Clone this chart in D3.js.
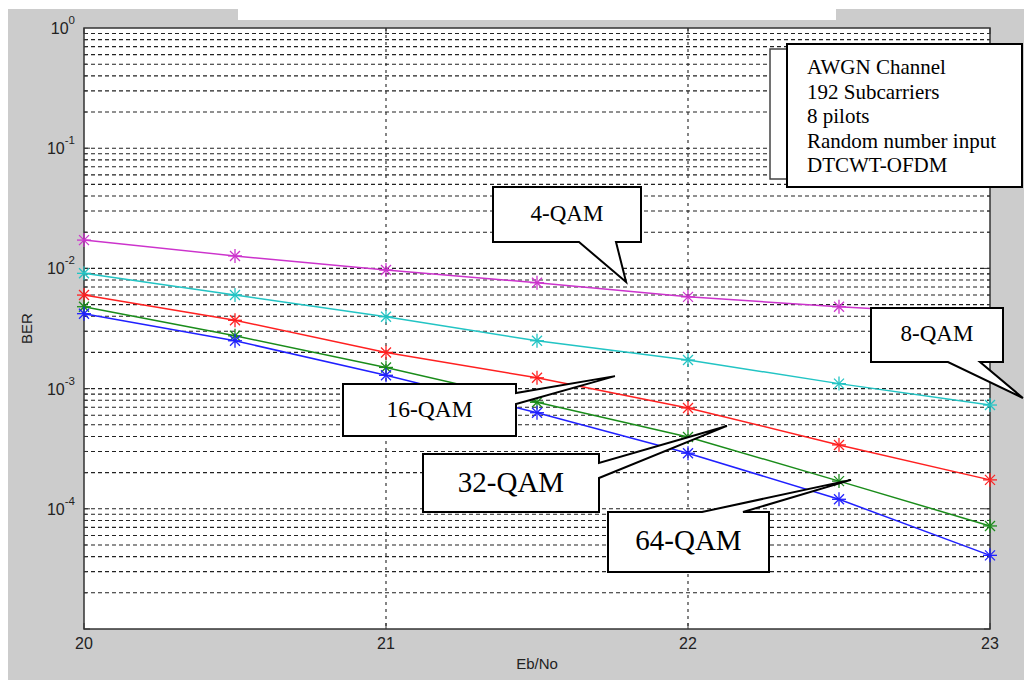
<!DOCTYPE html>
<html><head><meta charset="utf-8">
<script src="https://cdn.jsdelivr.net/npm/d3@7"></script>
<style>html,body{margin:0;padding:0;background:#fff;}svg{display:block;}</style>
</head><body>
<svg id="chart" width="1024" height="680"></svg>
<script>
// ---- data ----
const ebno = [20, 20.5, 21, 21.5, 22, 22.5, 23];
const ber4QAM  = [1.72e-2, 1.27e-2, 9.7e-3, 7.6e-3, 5.8e-3, 4.8e-3, 4.1e-3];
const ber8QAM  = [9.1e-3, 6.0e-3, 3.96e-3, 2.5e-3, 1.73e-3, 1.1e-3, 7.3e-4];
const ber16QAM = [6.0e-3, 3.7e-3, 2.0e-3, 1.23e-3, 6.9e-4, 3.4e-4, 1.74e-4];
const ber32QAM = [4.8e-3, 2.75e-3, 1.5e-3, 7.7e-4, 3.96e-4, 1.7e-4, 7.2e-5];
const ber64QAM = [4.2e-3, 2.5e-3, 1.29e-3, 6.3e-4, 2.9e-4, 1.2e-4, 4.1e-5];
const seriesNames = ["4-QAM", "8-QAM", "16-QAM", "32-QAM", "64-QAM"];
const seriesColors = ["#cc33cc", "#22c4c4", "#ff2020", "#1a8c1a", "#2020ff"];
const xTicks = [20, 21, 22, 23];
const yMajorExp = [0, -1, -2, -3, -4];
const infoLines = ["AWGN Channel", "192 Subcarriers", "8 pilots", "Random number input", "DTCWT-OFDM"];
// callout tips in data units
const calloutTipX = [21.795, 23.109, 21.758, 22.129, 22.540];
const calloutTipY = [7.7e-3, 8.35e-4, 1.27e-3, 4.89e-4, 1.74e-4];

const allSeries = [ber4QAM, ber8QAM, ber16QAM, ber32QAM, ber64QAM];

// ---- layout ----
const svg = d3.select("#chart");
const L = 84, R = 990, T = 28, B = 629;
const x = d3.scaleLinear().domain([20, 23]).range([L, R]);
const y = d3.scaleLog().domain([1e-5, 1]).range([B, T]);

// background
svg.append("rect").attr("x", 0).attr("y", 0).attr("width", 1024).attr("height", 680).attr("fill", "#fff");
svg.append("rect").attr("x", 8).attr("y", 9).attr("width", 1016).attr("height", 671).attr("fill", "#cccccc");
svg.append("rect").attr("x", 238).attr("y", 0).attr("width", 598).attr("height", 20).attr("fill", "#fff");
svg.append("rect").attr("x", L).attr("y", T).attr("width", R - L).attr("height", B - T).attr("fill", "#fff");

// grid
const minorVals = [];
for (let e = -5; e < 0; e++) for (let m = 1; m <= 9; m++) minorVals.push(m * Math.pow(10, e));
const gridCol = "#222";
const grid = svg.append("g");
grid.selectAll("line.h").data(minorVals.filter(v => v > 1e-5)).enter().append("line")
  .attr("x1", L).attr("x2", R).attr("y1", d => y(d)).attr("y2", d => y(d))
  .attr("stroke", gridCol).attr("stroke-width", 1.1).attr("stroke-dasharray", "4,3");
grid.selectAll("line.v").data([21, 22]).enter().append("line")
  .attr("x1", d => x(d)).attr("x2", d => x(d)).attr("y1", T).attr("y2", B)
  .attr("stroke", gridCol).attr("stroke-width", 1.1).attr("stroke-dasharray", "3,4");

// ticks (inward)
const tk = svg.append("g").attr("stroke", "#333").attr("stroke-width", 1);
xTicks.forEach(t => {
  tk.append("line").attr("x1", x(t)).attr("x2", x(t)).attr("y1", B).attr("y2", B - 6);
  tk.append("line").attr("x1", x(t)).attr("x2", x(t)).attr("y1", T).attr("y2", T + 6);
});
minorVals.forEach(v => {
  const len = (Math.abs(Math.log10(v) - Math.round(Math.log10(v))) < 1e-9) ? 6 : 3;
  tk.append("line").attr("x1", L).attr("x2", L + len).attr("y1", y(v)).attr("y2", y(v));
  tk.append("line").attr("x1", R).attr("x2", R - len).attr("y1", y(v)).attr("y2", y(v));
});

// frame
svg.append("rect").attr("x", L).attr("y", T).attr("width", R - L).attr("height", B - T)
  .attr("fill", "none").attr("stroke", "#333").attr("stroke-width", 1.5);

// tick labels
const font = "Liberation Sans, Arial, sans-serif";
svg.append("g").selectAll("text").data(xTicks).enter().append("text")
  .attr("x", d => x(d)).attr("y", B + 20).attr("text-anchor", "middle")
  .attr("font-family", font).attr("font-size", 16).attr("fill", "#222").text(d => d);
const yl = svg.append("g");
yMajorExp.forEach(e => {
  const yy = y(Math.pow(10, e));
  const t = yl.append("text").attr("x", 75).attr("y", yy + 6).attr("text-anchor", "end")
    .attr("font-family", font).attr("font-size", 16).attr("fill", "#222");
  t.append("tspan").text("10");
  t.append("tspan").attr("dy", -10).attr("font-size", 11.5).text(e);
});

// axis titles
svg.append("text").attr("x", (L + R) / 2).attr("y", 669).attr("text-anchor", "middle")
  .attr("font-family", font).attr("font-size", 15).attr("fill", "#222").text("Eb/No");
svg.append("text").attr("transform", `translate(32,${(T + B) / 2}) rotate(-90)`).attr("text-anchor", "middle")
  .attr("font-family", font).attr("font-size", 15).attr("fill", "#222").text("BER");

// series
const lineGen = d3.line().x(d => x(d[0])).y(d => y(d[1]));
const plot = svg.append("g");
allSeries.forEach((vals, i) => {
  const pts = ebno.map((e, j) => [e, vals[j]]);
  plot.append("path").datum(pts).attr("d", lineGen).attr("fill", "none")
    .attr("stroke", seriesColors[i]).attr("stroke-width", 1.5);
  const mk = plot.append("g").attr("stroke", seriesColors[i]).attr("stroke-width", 1.3);
  pts.forEach(p => {
    const cx = x(p[0]), cy = y(p[1]), r = 7, q = 5;
    mk.append("line").attr("x1", cx - r).attr("x2", cx + r).attr("y1", cy).attr("y2", cy);
    mk.append("line").attr("x1", cx).attr("x2", cx).attr("y1", cy - r).attr("y2", cy + r);
    mk.append("line").attr("x1", cx - q).attr("x2", cx + q).attr("y1", cy - q).attr("y2", cy + q);
    mk.append("line").attr("x1", cx - q).attr("x2", cx + q).attr("y1", cy + q).attr("y2", cy - q);
  });
});

// info box
const serif = "Liberation Serif, Times New Roman, serif";
svg.append("rect").attr("x", 770).attr("y", 49).attr("width", 40).attr("height", 130)
  .attr("fill", "#fff").attr("stroke", "#444").attr("stroke-width", 1.5);
svg.append("rect").attr("x", 787).attr("y", 44).attr("width", 235).attr("height", 143)
  .attr("fill", "#fff").attr("stroke", "#000").attr("stroke-width", 2);
svg.append("g").selectAll("text").data(infoLines).enter().append("text")
  .attr("x", 807).attr("y", (d, i) => 74 + i * 24.5)
  .attr("font-family", serif).attr("font-size", 21).attr("fill", "#000").text(d => d);

// callouts (box layout in px, tip in data units)
const calloutBoxes = [
  {x0: 493, y0: 187, x1: 641, y1: 242, side: "bottom", a: 579, b: 616, fs: 23, base: 221},
  {x0: 871, y0: 308, x1: 1003, y1: 362, side: "bottom", a: 948, b: 980, fs: 23, base: 341},
  {x0: 343, y0: 384, x1: 516, y1: 436, side: "right", a: 393, b: 404, fs: 23.5, base: 417},
  {x0: 423, y0: 454, x1: 599, y1: 512, side: "right", a: 463, b: 478, fs: 29, base: 492},
  {x0: 608, y0: 512, x1: 769, y1: 572, side: "top", a: 702, b: 743, fs: 29, base: 550}
];
const cg = svg.append("g");
calloutBoxes.forEach((c, i) => {
  const tx = x(calloutTipX[i]), ty = y(calloutTipY[i]);
  let pts = [];
  pts.push([c.x0, c.y0]);
  if (c.side === "top") pts.push([c.a, c.y0], [tx, ty], [c.b, c.y0]);
  pts.push([c.x1, c.y0]);
  if (c.side === "right") pts.push([c.x1, c.a], [tx, ty], [c.x1, c.b]);
  pts.push([c.x1, c.y1]);
  if (c.side === "bottom") pts.push([c.b, c.y1], [tx, ty], [c.a, c.y1]);
  pts.push([c.x0, c.y1]);
  cg.append("path").attr("d", "M" + pts.map(p => p.join(",")).join("L") + "Z")
    .attr("fill", "#fff").attr("stroke", "#000").attr("stroke-width", 2).attr("stroke-linejoin", "miter");
  cg.append("text").attr("x", (c.x0 + c.x1) / 2).attr("y", c.base).attr("text-anchor", "middle")
    .attr("font-family", serif).attr("font-size", c.fs).attr("fill", "#000").text(seriesNames[i]);
});
</script>
</body></html>
